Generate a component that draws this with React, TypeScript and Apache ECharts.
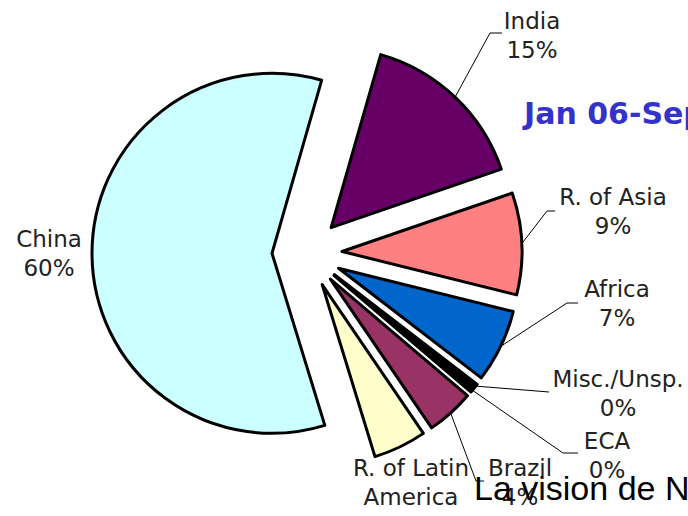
import React, { useEffect, useRef } from 'react';
import * as echarts from 'echarts';

// ---- data (shares in %) ----
const regions = ['India', 'R. of Asia', 'Africa', 'Misc./Unsp.', 'ECA', 'Brazil', 'R. of Latin\nAmerica', 'China'];
const shares = [15.4, 9.2, 6.6, 0.4, 0.4, 4.3, 4.8, 59.6];
const colors = ['#660066', '#ff8080', '#0066cc', '#000000', '#000000', '#993366', '#ffffcc', '#ccffff'];
const title = 'Jan 06-Sep 07';
const caption = 'La vision de N';

// ---- layout ----
const CX = 307;
const CY = 253;
const R = 180;
const OFFSET = 35;
const START = 74; // degrees, ccw from 3 o'clock
const labelCenters: number[][] = [
  [532, 35], [613, 211], [617, 303], [618, 393], [607, 455], [520, 482], [411, 497], [49, 253],
];
const leaderBends: (number[][] | null)[] = [
  [[490, 33], [502, 33]],
  [[547, 211], [555, 211]],
  [[567, 303], [578, 303]],
  [[549, 392], [549, 392]],
  [[563, 453], [578, 453]],
  [[476, 481], [484, 481]],
  null,
  null,
];

function midDir(i: number): number[] {
  const total = shares.reduce((a, b) => a + b, 0);
  let cum = 0;
  for (let k = 0; k < i; k++) cum += shares[k];
  const mid = ((START - ((cum + shares[i] / 2) / total) * 360) * Math.PI) / 180;
  return [Math.cos(mid), -Math.sin(mid)];
}

export default function App() {
  const ref = useRef<HTMLDivElement>(null);
  useEffect(() => {
    if (!ref.current) return;
    const chart = echarts.init(ref.current, null, { renderer: 'svg' });
    const series = regions.map((_, i) => {
      const d = midDir(i);
      const cx = CX + d[0] * OFFSET;
      const cy = CY + d[1] * OFFSET;
      return {
        type: 'pie',
        silent: true,
        center: [cx, cy],
        radius: [0, R],
        startAngle: START,
        clockwise: true,
        avoidLabelOverlap: false,
        emphasis: { disabled: true },
        label: {
          show: false,
          position: 'outside',
          formatter: (p: any) => `${p.name}\n${Math.round(p.value)}%`,
          fontFamily: '"DejaVu Sans"',
          fontSize: 23,
          lineHeight: 29,
          color: '#222222',
          align: 'center',
        },
        labelLine: { show: false, lineStyle: { color: '#000000', width: 1 } },
        labelLayout: (params: any) => {
          const j = params.dataIndex;
          const c = labelCenters[j];
          const bends = leaderBends[j];
          const out: any = { x: c[0], y: c[1], align: 'center', verticalAlign: 'middle', hideOverlap: false };
          if (bends) out.labelLinePoints = [[cx + d[0] * R, cy + d[1] * R], bends[0], bends[1]];
          return out;
        },
        data: regions.map((name, j) =>
          j === i
            ? {
                name,
                value: shares[j],
                itemStyle: { color: colors[j], borderColor: '#000000', borderWidth: 3 },
                label: { show: true },
                labelLine: { show: leaderBends[j] !== null },
              }
            : {
                name,
                value: shares[j],
                itemStyle: { color: 'transparent', borderWidth: 0 },
                label: { show: false },
                labelLine: { show: false },
              }
        ),
      };
    });
    chart.setOption({
      animation: false,
      backgroundColor: '#ffffff',
      graphic: [
        {
          type: 'text',
          x: 524,
          y: 113,
          style: {
            text: title,
            font: 'bold 30px "DejaVu Sans"',
            fill: '#3333cc',
            textAlign: 'left',
            textVerticalAlign: 'middle',
          },
        },
        {
          type: 'text',
          x: 474,
          y: 488,
          z: 100,
          style: {
            text: caption,
            font: '34px "Liberation Sans", Arial',
            fill: '#000000',
            textAlign: 'left',
            textVerticalAlign: 'middle',
          },
        },
      ],
      series,
    });
    return () => chart.dispose();
  }, []);
  return <div ref={ref} style={{ position: 'absolute', left: 0, top: 0, width: 688, height: 516 }} />;
}
